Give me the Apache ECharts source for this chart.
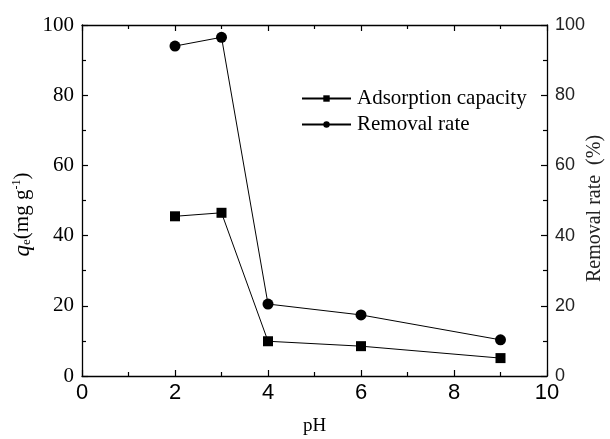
<!DOCTYPE html>
<html><head><meta charset="utf-8">
<script src="https://cdn.jsdelivr.net/npm/echarts@6/dist/echarts.min.js"></script>
<style>html,body{margin:0;padding:0;background:#fff}#c{width:610px;height:439px}</style>
</head><body><div id="c"></div>
<script>
const pH = [2, 3, 4, 6, 9];
const adsorptionCapacity = [45.5, 46.5, 9.9, 8.5, 5.1];
const removalRate = [94, 96.5, 20.5, 17.4, 10.3];
const xTicks = [0, 2, 4, 6, 8, 10];
const yTicks = [0, 20, 40, 60, 80, 100];

const serif = '"Liberation Serif","Times New Roman",serif';
const sans = '"Liberation Sans",Arial,sans-serif';
const chart = echarts.init(document.getElementById('c'));
const axLine = () => ({show: true, onZero: false, lineStyle: {color: '#000', width: 1.3}});
const tick = () => ({show: true, inside: true, length: 6, lineStyle: {color: '#000', width: 1.2}});
const minor = () => ({show: true, splitNumber: 2, length: 4, lineStyle: {color: '#000', width: 1.2}});
chart.setOption({
  animation: false,
  grid: {left: 82, right: 63, top: 25, bottom: 63, containLabel: false, outerBoundsMode: 'none'},
  legend: {
    orient: 'vertical', left: 296, top: 83, itemGap: 5, itemWidth: 49, itemHeight: 8,
    textStyle: {fontFamily: serif, fontSize: 21, color: '#000', padding: [0, 0, 0, 1]},
    data: ['Adsorption capacity', 'Removal rate']
  },
  xAxis: [{
    type: 'value', min: xTicks[0], max: xTicks[xTicks.length - 1], interval: 2, position: 'bottom',
    name: 'pH', nameLocation: 'middle', nameGap: 41, nameMoveOverlap: false,
    nameTextStyle: {fontFamily: serif, fontSize: 19, color: '#000'},
    axisLine: axLine(), axisTick: tick(), minorTick: minor(),
    axisLabel: {fontFamily: sans, fontSize: 22, color: '#000', margin: 6},
    splitLine: {show: false}
  }, {
    type: 'value', min: 0, max: 10, interval: 2, position: 'top',
    axisLine: axLine(), axisTick: tick(), minorTick: minor(),
    axisLabel: {show: false}, splitLine: {show: false}
  }],
  yAxis: [{
    type: 'value', min: yTicks[0], max: yTicks[yTicks.length - 1], interval: 20, position: 'left',
    name: '{i|q}{s|e}{t|(mg g}{p|-1}{t|)}', nameLocation: 'middle', nameGap: 48, nameRotate: 90,
    nameMoveOverlap: false,
    nameTextStyle: {
      fontFamily: serif, fontSize: 21, color: '#000', padding: [0, 28, 0, 0],
      rich: {
        i: {fontFamily: serif, fontStyle: 'italic', fontSize: 23, color: '#000'},
        s: {fontFamily: serif, fontSize: 13, color: '#000', padding: [9, 0, 0, 0]},
        t: {fontFamily: serif, fontSize: 21, color: '#000'},
        p: {fontFamily: serif, fontSize: 12, color: '#000', padding: [0, 0, 11, 0]}
      }
    },
    axisLine: axLine(), axisTick: tick(), minorTick: minor(),
    axisLabel: {fontFamily: serif, fontSize: 21, color: '#000', margin: 8},
    splitLine: {show: false}
  }, {
    type: 'value', min: 0, max: 100, interval: 20, position: 'right',
    name: 'Removal rate  (%)', nameLocation: 'middle', nameGap: 38, nameRotate: 90,
    nameMoveOverlap: false,
    nameTextStyle: {fontFamily: serif, fontSize: 20, color: '#222', padding: [0, 16, 0, 0]},
    axisLine: axLine(), axisTick: tick(), minorTick: minor(),
    axisLabel: {fontFamily: sans, fontSize: 18, color: '#222', margin: 8},
    splitLine: {show: false}
  }],
  series: [{
    name: 'Adsorption capacity', type: 'line', xAxisIndex: 0, yAxisIndex: 0,
    data: pH.map((x, i) => [x, adsorptionCapacity[i]]),
    symbol: 'rect', symbolSize: 10,
    lineStyle: {color: '#000', width: 1}, itemStyle: {color: '#000'}
  }, {
    name: 'Removal rate', type: 'line', xAxisIndex: 0, yAxisIndex: 1,
    data: pH.map((x, i) => [x, removalRate[i]]),
    symbol: 'circle', symbolSize: 11,
    lineStyle: {color: '#000', width: 1}, itemStyle: {color: '#000'}
  }]
});
</script></body></html>
